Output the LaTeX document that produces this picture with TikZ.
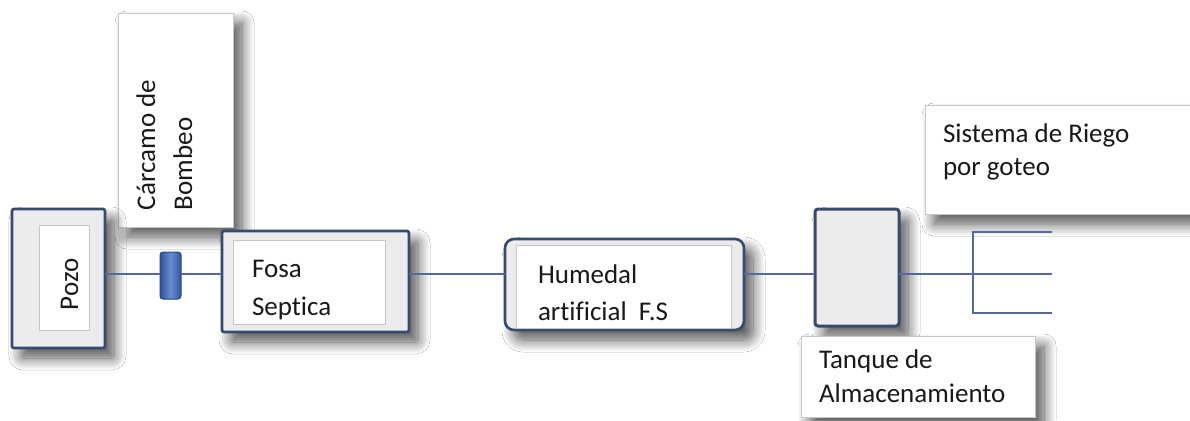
\documentclass[tikz,border=0pt]{standalone}
\usepackage{fontspec}
\setmainfont{Carlito}[Ligatures={NoCommon}]
\usetikzlibrary{shadows.blur}
\definecolor{bordercol}{RGB}{55,75,110}
\definecolor{linecol}{RGB}{85,105,160}
\definecolor{boxgray}{RGB}{236,236,236}
\definecolor{pumpcol}{RGB}{75,118,205}
\definecolor{pumpdark}{RGB}{40,70,130}
\begin{document}
\begin{tikzpicture}[x=1pt,y=-1pt,
  every node/.style={inner sep=0pt, outer sep=0pt},
  shad/.style={blur shadow={shadow xshift=9pt, shadow yshift=-10pt, shadow blur steps=16, shadow blur radius=12pt, shadow opacity=68}},
  outerbox/.style={draw=bordercol, line width=2.6pt, fill=boxgray, rounded corners=2pt, anchor=north west, shad},
  whitebox/.style={draw=black!22, line width=0.6pt, fill=white, anchor=north west},
  labelbox/.style={whitebox, shad},
  txt/.style={font=\fontsize{27}{33}\selectfont, anchor=base west, text=black!90},
  pipe/.style={draw=linecol, line width=1.6pt}
]
\useasboundingbox (0,0) rectangle (1190,420);
\fill[white] (0,0) rectangle (1190,420);
\coordinate (ln) at (0,274);

% label boxes
\node[labelbox, minimum width=115pt, minimum height=214pt] (carcbox) at (118,13) {};
\node[txt, rotate=90] (carc1) at (155,210) {Cárcamo de};
\node[txt, rotate=90] (carc2) at (192,210) {Bombeo};

\node[labelbox, minimum width=266pt, minimum height=109pt] (sisbox) at (925,105) {};
\node[txt] (sis1) at (943,142) {Sistema de Riego};
\node[txt] (sis2) at (943,175) {por goteo};

% Pozo
\node[outerbox, minimum width=93pt, minimum height=139pt] (pozo) at (12,209) {};
\node[whitebox, minimum width=50pt, minimum height=105pt] (pozoin) at (39,225) {};
\node[txt, rotate=90] (pozotxt) at (78,310) {Pozo};

% Pump
\node[draw=pumpdark, line width=1pt, rounded corners=3pt, left color=pumpdark!70!pumpcol, right color=pumpdark!70!pumpcol, middle color=pumpcol!85!white, minimum width=21pt, minimum height=47pt, anchor=north west] (pump) at (160,252) {};

% Fosa
\node[outerbox, minimum width=187pt, minimum height=101pt] (fosa) at (222,231) {};
\node[whitebox, minimum width=152pt, minimum height=84pt] (fosain) at (233,240) {};
\node[txt] (fosa1) at (252,277) {Fosa};
\node[txt] (fosa2) at (252,315) {Septica};

% Humedal
\node[outerbox, rounded corners=9pt, minimum width=239pt, minimum height=91pt] (hum) at (505,239) {};
\node[whitebox, minimum width=215pt, minimum height=83pt] (humin) at (516,245) {};
\node[txt] (hum1) at (538,283) {Humedal};
\node[txt] (hum2) at (538,320) {artificial\ \ F.S};

% Tanque
\node[outerbox, line width=3pt, rounded corners=3pt, minimum width=84pt, minimum height=117pt] (tank) at (815,209) {};
\node[labelbox, minimum width=234pt, minimum height=81pt] (tanbox) at (801,336) {};
\node[txt] (tan1) at (819,368) {Tanque de};
\node[txt] (tan2) at (819,402) {Almacenamiento};

% pipes
\coordinate (bm) at (973,274);
\coordinate (bt) at (973,232);
\coordinate (bb) at (973,313);
\coordinate (e1) at (1052,232);
\coordinate (e2) at (1052,274);
\coordinate (e3) at (1052,313);
\draw[pipe] (pozo.east |- ln) -- (pump.west |- ln);
\draw[pipe] (pump.east |- ln) -- (fosa.west |- ln);
\draw[pipe] (fosa.east |- ln) -- (hum.west |- ln);
\draw[pipe] (hum.east |- ln) -- (tank.west |- ln);
\draw[pipe] (tank.east |- ln) -- (bm);
\draw[pipe] (e1) -- (bt) -- (bb) -- (e3);
\draw[pipe] (bm) -- (e2);
\end{tikzpicture}
\end{document}
